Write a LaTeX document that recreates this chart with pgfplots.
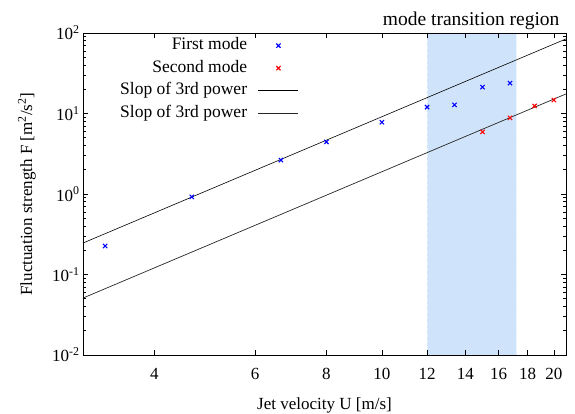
\documentclass[border=0pt]{standalone}
\usepackage{fontspec}
\setmainfont{Liberation Serif}
\usepackage{pgfplots}
\pgfplotsset{compat=1.18}
\definecolor{shade}{RGB}{207,228,250}
\definecolor{shadeedge}{RGB}{232,242,253}
\newcommand\fs{\fontsize{17}{20}\selectfont}
\newcommand\fl{\fontsize{17.5}{20}\selectfont}
\newcommand\ft{\fontsize{19.5}{22}\selectfont}
\begin{document}
\begin{tikzpicture}
\path[use as bounding box] (-83pt,-59pt) rectangle (492pt,355pt);
\begin{axis}[
  at={(0pt,0pt)}, anchor=south west,
  scale only axis, width=483pt, height=322pt,
  clip=false,
  xmode=log, ymode=log,
  xmin=3, xmax=21, ymin=0.01, ymax=100,
  xtick={4,6,8,10,12,14,16,18,20},
  xticklabels={4,6,8,10,12,14,16,18,20},
  xminorticks=false,
  ytick={0.01,0.1,1,10,100},
  yticklabels={10\textsuperscript{-2},10\textsuperscript{-1},10\textsuperscript{0},10\textsuperscript{1},10\textsuperscript{2}},
  tick label style={font=\fs},
  xticklabel style={yshift=-10pt},
  major tick length=5pt, minor tick length=3pt,
  tick style={black, line width=0.6pt},
  axis line style={line width=0.8pt},
  axis on top,
  x label style={at={(axis description cs:0.5,-0.158)}, anchor=center, font=\fs},
  y label style={at={(axis description cs:-0.116,0.5)}, anchor=center, rotate=0, font=\fs},
  xlabel={Jet velocity U [m/s]},
  ylabel={Fluctuation strength F [m\textsuperscript{2}/s\textsuperscript{2}]},
  legend cell align=right,
  legend plot pos=right,
  legend image code/.code={\draw[mark repeat=2,mark phase=2,#1] plot coordinates {(0pt,0pt) (20pt,0pt) (40pt,0pt)};},
  legend style={draw=none, fill=none, inner sep=0pt, font=\fl,
    at={(axis description cs:0,1)}, anchor=north east, xshift=216pt, yshift=-4pt,
    row sep=5.5pt, column sep=10pt,
    nodes={inner sep=1pt, text height=11.5pt, text depth=3.5pt}},
]
\addplot[draw=none, fill=shade, forget plot] coordinates {(12,0.01) (17.2,0.01) (17.2,100) (12,100) (12,0.01)};
\addplot[shadeedge, dashed, line width=0.8pt, forget plot] coordinates {(12,0.01) (12,100)};
\addplot[shadeedge, dashed, line width=0.8pt, forget plot] coordinates {(17.2,0.01) (17.2,100)};
\addplot[only marks, mark=x, mark size=3pt, blue, line width=1.1pt] coordinates {
(3.28,0.226) (4.65,0.92) (6.66,2.64) (8.0,4.43) (10,7.8) (12,12.0) (13.4,12.8) (15.0,21.3) (16.76,23.9)};
\addlegendentry{First mode}
\addplot[only marks, mark=x, mark size=3pt, red, line width=1.1pt] coordinates {
(15.0,5.9) (16.76,8.8) (18.5,12.4) (20,14.7)};
\addlegendentry{Second mode}
\addplot[black, line width=0.6pt] coordinates {(3,0.246) (21,84.4)};
\addlegendentry{Slop of 3rd power}
\addplot[black!85, line width=0.7pt] coordinates {(3,0.051) (21,17.5)};
\addlegendentry{Slop of 3rd power}
\node[anchor=base east, font=\ft, xshift=-3pt, yshift=7pt] at (rel axis cs:1,1) {mode transition region};
\end{axis}
\end{tikzpicture}
\end{document}
